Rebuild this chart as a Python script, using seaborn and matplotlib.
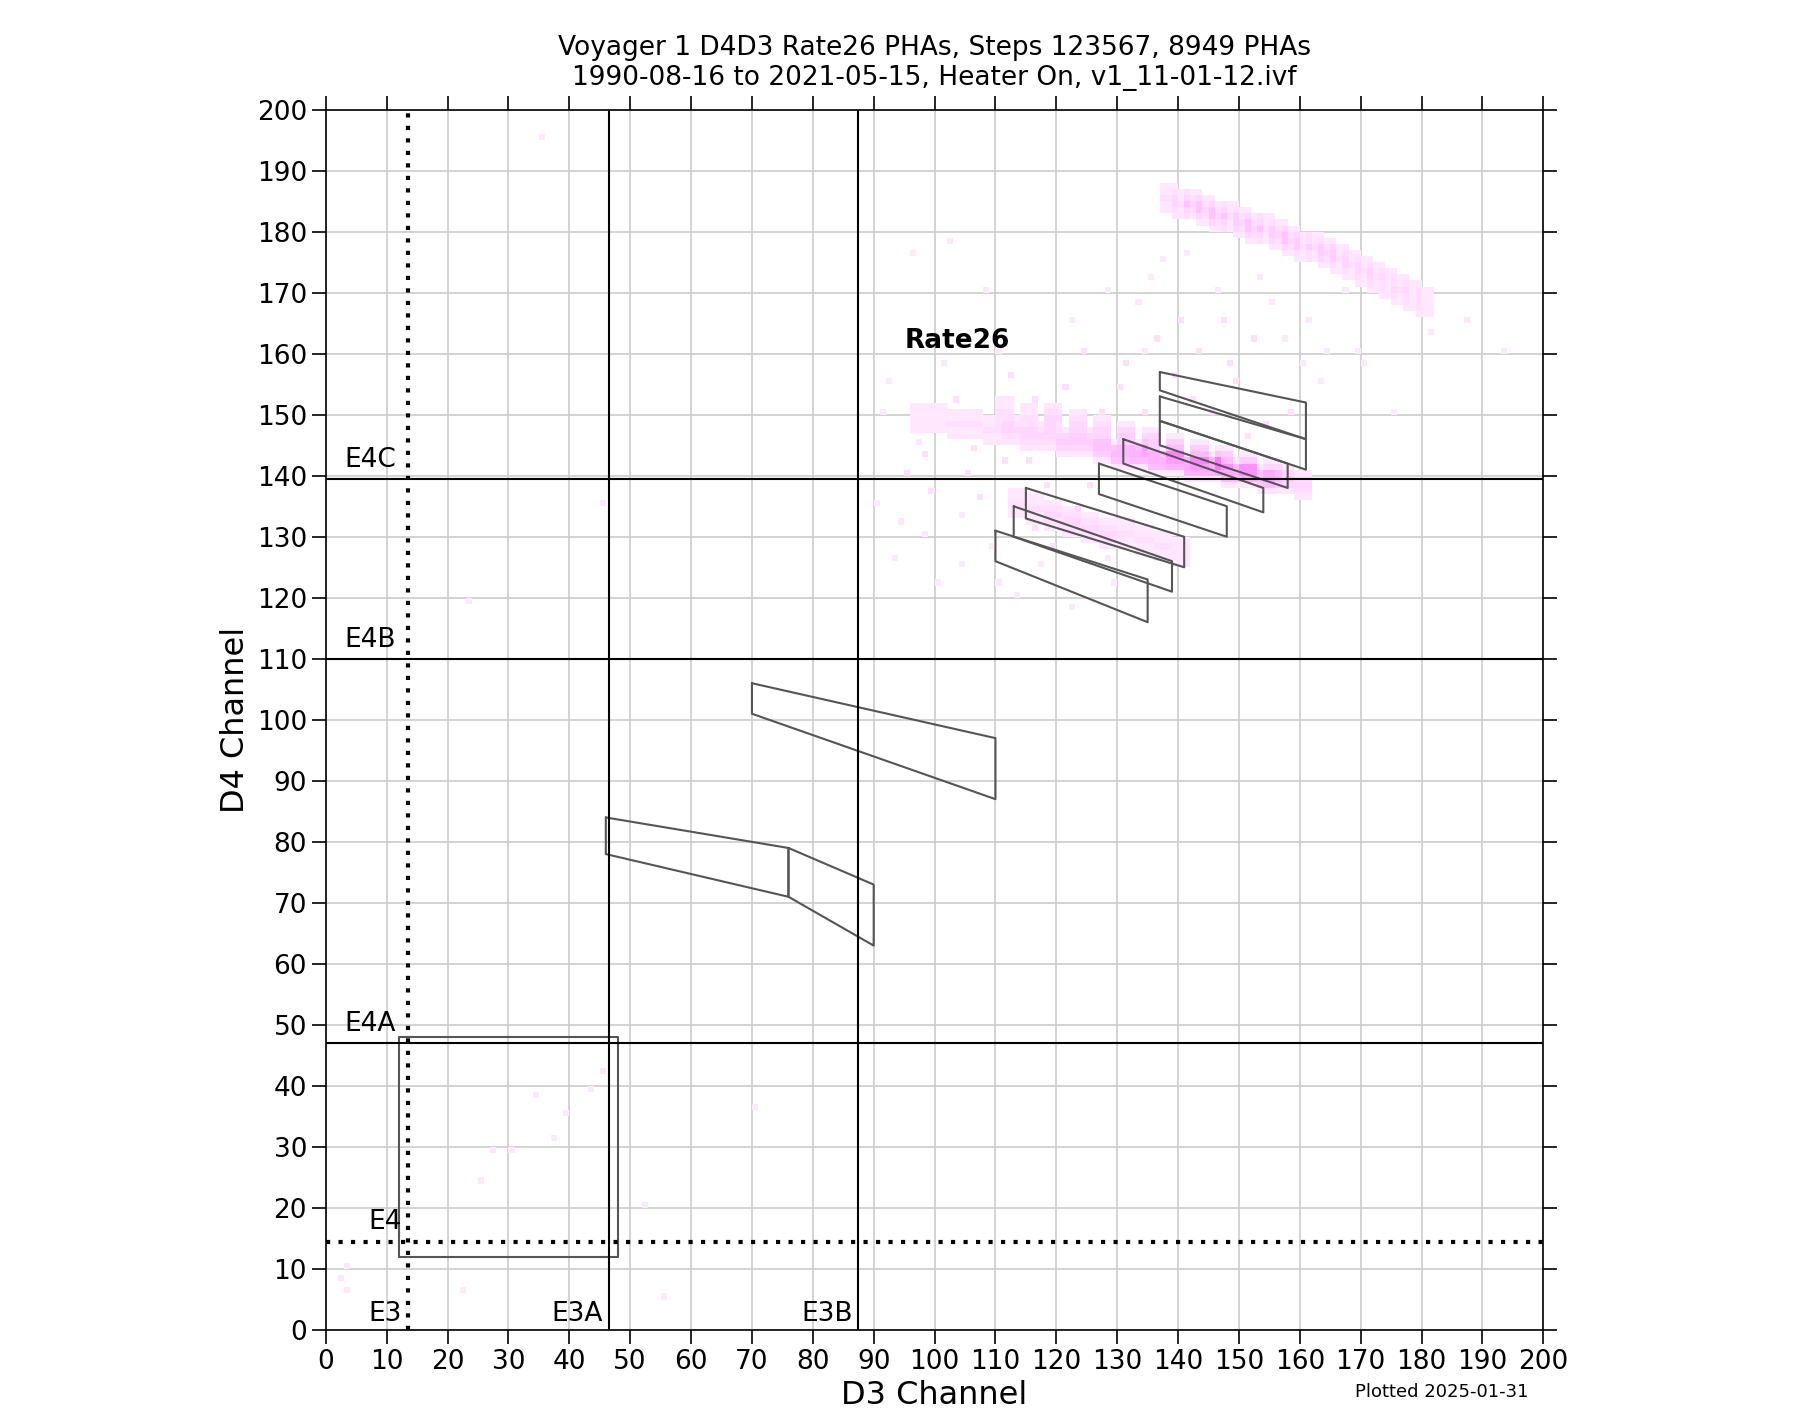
import numpy as np
import matplotlib
matplotlib.use("Agg")
import matplotlib.pyplot as plt
from matplotlib.colors import LinearSegmentedColormap
import seaborn as sns

# PHA cells (D3 channel, D4 channel, counts)
upper_x = [137, 139, 141, 143, 145, 147, 149, 151, 153, 155, 157, 159, 161, 163, 165, 167, 169, 171, 173, 175, 177, 179]
upper_y = [185, 184, 184, 183, 182, 182, 181, 180, 180, 179, 178, 177, 177, 176, 175, 174, 173, 172, 171, 170, 169, 168]
upper_c = [2, 2, 3, 3, 3, 2, 3, 3, 2, 3, 3, 2, 2, 3, 2, 2, 2, 2, 1, 2, 1, 1]

mid_x = [96, 99, 102, 105, 108, 111, 114, 117, 120, 123, 126, 129, 132, 135, 138, 141, 144, 147, 150, 153, 156, 159]
mid_y = [149, 149, 148, 148, 147, 147, 146, 146, 145, 145, 144, 143, 143, 142, 142, 141, 141, 140, 140, 139, 139, 138]
mid_c = [1, 1, 2, 2, 2, 3, 3, 3, 4, 4, 5, 6, 7, 7, 8, 8, 8, 7, 7, 6, 4, 3]

mid2_x = [110, 114, 118, 122, 126, 130, 134, 138, 142, 146, 150, 154]
mid2_y = [150, 149, 149, 148, 147, 146, 145, 144, 143, 142, 141, 140]
mid2_c = [2, 2, 3, 3, 3, 4, 4, 5, 5, 5, 4, 3]

low_x = [112, 115, 118, 121, 124, 127, 130, 133, 136, 139]
low_y = [135, 134, 133, 132, 131, 130, 130, 129, 128, 127]
low_c = [2, 2, 3, 3, 3, 3, 2, 2, 2, 1]

# band widths in channels (rows above/below, columns to the right)
band_rows = [-2, -1, 0, 1, 2]
band_cols = [0, 1, 2]

cloud_x = [92, 95, 98, 101, 104, 107, 110, 113, 116, 119, 122, 125, 128, 131, 134, 137, 140, 143, 146, 149,
           152, 155, 158, 161, 164, 167, 170, 94, 100, 106, 112, 118, 124, 130, 136, 142, 148, 154, 160,
           97, 103, 109, 115, 121, 127, 133, 139, 145, 151, 157, 163, 169, 175, 181, 187, 193, 96, 102, 108,
           90, 93, 99, 105, 111, 117, 123, 129, 135, 141, 147, 153, 91, 98, 104, 110, 116, 122, 128, 134]
cloud_y = [155, 140, 130, 158, 125, 136, 160, 120, 152, 128, 165, 138, 170, 158, 150, 175, 165, 160, 170, 155,
           162, 168, 150, 165, 160, 170, 158, 132, 122, 144, 156, 138, 160, 154, 162, 152, 158, 148, 158,
           145, 152, 128, 142, 154, 150, 168, 156, 150, 146, 162, 155, 160, 150, 163, 165, 160, 176, 178, 170,
           135, 126, 137, 140, 142, 125, 134, 122, 172, 176, 165, 172, 150, 143, 133, 122, 131, 118, 126, 160]
cloud_c = [1, 2, 1, 1, 1, 2, 1, 1, 2, 2, 1, 2, 1, 2, 2, 1, 2, 2, 1, 2,
           2, 1, 2, 1, 1, 1, 1, 1, 1, 2, 2, 2, 2, 2, 2, 2, 2, 2, 1,
           1, 2, 1, 2, 2, 2, 1, 2, 2, 2, 1, 1, 1, 1, 1, 1, 1, 1, 1, 1,
           1, 1, 2, 2, 2, 1, 2, 1, 1, 1, 2, 1, 1, 2, 1, 1, 2, 1, 1, 1]

stray_x = [3, 2, 3, 22, 25, 27, 30, 34, 37, 39, 43, 45, 52, 55, 70, 35, 45, 23]
stray_y = [10, 8, 6, 6, 24, 29, 29, 38, 31, 35, 39, 42, 20, 5, 36, 195, 135, 119]
stray_c = [1, 1, 1, 1, 1, 1, 1, 1, 1, 1, 1, 1, 1, 1, 1, 1, 1, 1]

# channel boxes (D3, D4 vertices)
boxes = [
    [(12, 12), (48, 12), (48, 48), (12, 48)],
    [(46, 84), (76, 79), (76, 71), (46, 78)],
    [(76, 79), (90, 73), (90, 63), (76, 71)],
    [(70, 106), (110, 97), (110, 87), (70, 101)],
    [(110, 131), (135, 123), (135, 116), (110, 126)],
    [(113, 135), (139, 126), (139, 121), (113, 130)],
    [(115, 138), (141, 130), (141, 125), (115, 133)],
    [(127, 142), (148, 135), (148, 130), (127, 137)],
    [(131, 146), (154, 138), (154, 134), (131, 142)],
    [(137, 149), (158, 142), (158, 138), (137, 145)],
    [(137, 153), (161, 146), (161, 141), (137, 149)],
    [(137, 157), (161, 152), (161, 146), (137, 154)],
]

vlines = {"E3A": 46.5, "E3B": 87.5}
hlines = {"E4A": 47, "E4B": 110, "E4C": 139.5}
e3_x = 13.5
e4_y = 14.5

sns.set_style("white")
plt.rcParams["font.family"] = ["DejaVu Sans"]
plt.rcParams["text.color"] = "black"
plt.rcParams["axes.labelcolor"] = "black"
plt.rcParams["xtick.color"] = "black"
plt.rcParams["ytick.color"] = "black"

fig = plt.figure(figsize=(18.2, 14.24), dpi=100)
ax = fig.add_axes([0.179, 0.066, 0.669, 0.857])

xs, ys, cs = [], [], []
for bx, by, bc in [(upper_x, upper_y, upper_c), (mid_x, mid_y, mid_c),
                   (mid2_x, mid2_y, mid2_c), (low_x, low_y, low_c)]:
    for x, y, c in zip(bx, by, bc):
        for dy in band_rows:
            for dx in band_cols:
                xs.append(x + dx)
                ys.append(y + dy)
                cs.append(c if dy == 0 else max(c - 1, 1) if abs(dy) == 1 else 1)
xs += cloud_x + stray_x
ys += cloud_y + stray_y
cs += cloud_c + stray_c

edges = np.arange(0, 201)
H, _, _ = np.histogram2d(xs, ys, bins=[edges, edges], weights=cs)
H = np.ma.masked_equal(H, 0)
cmap = LinearSegmentedColormap.from_list("pink", ["#fff0fd", "#ffaaff", "#ff44ff"])
ax.pcolormesh(edges, edges, H.T, cmap=cmap, vmin=0, vmax=16, zorder=1)

for b in boxes:
    px = [p[0] for p in b] + [b[0][0]]
    py = [p[1] for p in b] + [b[0][1]]
    ax.plot(px, py, color="#555555", lw=1.5, zorder=3)

for name, x in vlines.items():
    ax.axvline(x, color="black", lw=1.5, zorder=4)
    ax.text(x - 1, 0.5, name, ha="right", va="bottom", fontsize=19)
for name, y in hlines.items():
    ax.axhline(y, color="black", lw=1.5, zorder=4)
    ax.text(3, y + 1, name, ha="left", va="bottom", fontsize=19)
ax.axvline(e3_x, color="black", lw=3, ls=(0, (1, 2)), zorder=4)
ax.text(e3_x - 1, 0.5, "E3", ha="right", va="bottom", fontsize=19)
ax.axhline(e4_y, color="black", lw=3, ls=(0, (1, 2)), zorder=4)
ax.text(e3_x - 1, e4_y + 1, "E4", ha="right", va="bottom", fontsize=19)

ax.text(95, 161, "Rate26", fontsize=19, fontweight="bold")

ax.set_xlim(0, 200)
ax.set_ylim(0, 200)
ax.set_xticks(range(0, 201, 10))
ax.set_yticks(range(0, 201, 10))
ax.grid(True, color="#cccccc", lw=1.2, zorder=0)
ax.set_axisbelow(True)
ax.tick_params(axis="both", which="both", direction="out", length=10, width=1.2,
               labelsize=19, top=True, right=True, bottom=True, left=True)
for s in ax.spines.values():
    s.set_color("black")
    s.set_linewidth(1.2)
ax.set_xlabel("D3 Channel", fontsize=23, labelpad=4)
ax.set_ylabel("D4 Channel", fontsize=23)
ax.set_title("Voyager 1 D4D3 Rate26 PHAs, Steps 123567, 8949 PHAs\n"
             "1990-08-16 to 2021-05-15, Heater On, v1_11-01-12.ivf", fontsize=19, pad=18)
fig.text(0.792, 0.019, "Plotted 2025-01-31", ha="center", fontsize=13)

fig.savefig("out.png", dpi=100)
